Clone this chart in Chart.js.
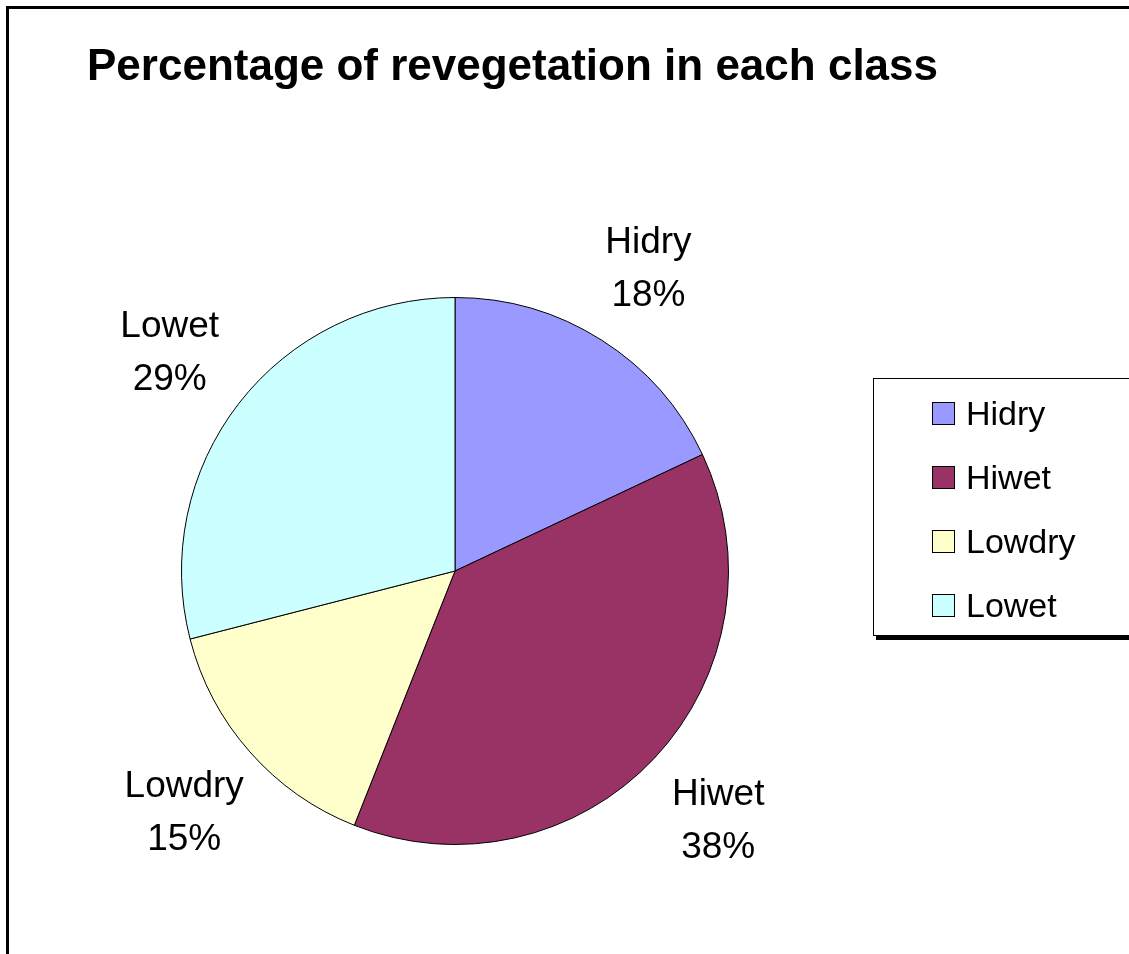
<!DOCTYPE html>
<html>
<head>
<meta charset="utf-8">
<title>Percentage of revegetation in each class</title>
<script src="https://cdn.jsdelivr.net/npm/chart.js@4/dist/chart.umd.min.js"></script>
<style>
  html, body { margin: 0; padding: 0; background: #fff; }
  #wrap { width: 1129px; height: 954px; }
</style>
</head>
<body>
<div id="wrap"><canvas id="pie-graph"></canvas></div>
<script>
const title = 'Percentage of revegetation in each class';
const classes = ['Hidry', 'Hiwet', 'Lowdry', 'Lowet'];
const percents = [18, 38, 15, 29];
const colours = ['#9999FF', '#993366', '#FFFFCC', '#CCFFFF'];

const FONT = '"Liberation Sans", Arial, Helvetica, sans-serif';

// frame round the whole chart plus the title
const framePlugin = {
  id: 'frame',
  beforeDraw(chart) {
    const ctx = chart.ctx;
    ctx.save();
    ctx.fillStyle = '#fff';
    ctx.fillRect(0, 0, chart.width, chart.height);
    ctx.strokeStyle = '#000';
    ctx.lineWidth = 3;
    ctx.strokeRect(7.5, 7.5, chart.width + 20, chart.height + 20);
    ctx.fillStyle = '#000';
    ctx.font = 'bold 44px ' + FONT;
    ctx.textBaseline = 'alphabetic';
    ctx.textAlign = 'left';
    ctx.fillText(title, 87, 80);
    ctx.restore();
  }
};

// "name / nn%" labels outside each slice
const sliceLabels = {
  id: 'sliceLabels',
  afterDatasetsDraw(chart) {
    const ctx = chart.ctx;
    const meta = chart.getDatasetMeta(0);
    ctx.save();
    ctx.fillStyle = '#000';
    ctx.font = '37px ' + FONT;
    ctx.textAlign = 'center';
    ctx.textBaseline = 'alphabetic';
    meta.data.forEach((arc, i) => {
      const p = arc.getProps(['x', 'y', 'startAngle', 'endAngle', 'outerRadius'], true);
      const mid = (p.startAngle + p.endAngle) / 2;
      const r = p.outerRadius * 1.32;
      const cx = p.x + Math.cos(mid) * r;
      const cy = p.y + Math.sin(mid) * r;
      ctx.fillText(classes[i], cx, cy - 26 + 13);
      ctx.fillText(percents[i] + '%', cx, cy + 27 + 13);
    });
    ctx.restore();
  }
};

// boxed legend on the right with a shadow under it
const boxLegend = {
  id: 'boxLegend',
  afterDraw(chart) {
    const ctx = chart.ctx;
    ctx.save();
    ctx.fillStyle = '#000';
    ctx.fillRect(876, 636, 270, 4);
    ctx.fillStyle = '#fff';
    ctx.fillRect(873, 378, 270, 258);
    ctx.strokeStyle = '#000';
    ctx.lineWidth = 1;
    ctx.strokeRect(873.5, 378.5, 270, 257);
    ctx.font = '34px ' + FONT;
    ctx.textAlign = 'left';
    ctx.textBaseline = 'alphabetic';
    classes.forEach((name, i) => {
      const y = 413 + i * 64;
      ctx.fillStyle = colours[i];
      ctx.fillRect(932, y - 11, 23, 23);
      ctx.strokeStyle = '#000';
      ctx.strokeRect(932.5, y - 10.5, 22, 22);
      ctx.fillStyle = '#000';
      ctx.fillText(name, 966, y + 12);
    });
    ctx.restore();
  }
};

const ctx = document.getElementById('pie-graph');

new Chart(ctx, {
  type: 'pie',
  data: {
    labels: classes,
    datasets: [{
      label: 'Revegetation',
      data: percents,
      backgroundColor: colours,
      borderColor: '#000',
      borderWidth: 1
    }]
  },
  options: {
    responsive: true,
    maintainAspectRatio: false,
    animation: false,
    layout: {
      padding: { left: 181, right: 400, top: 297, bottom: 109 }
    },
    plugins: {
      legend: { display: false },
      title: { display: false },
      tooltip: { enabled: false }
    }
  },
  plugins: [framePlugin, sliceLabels, boxLegend]
});
</script>
</body>
</html>
